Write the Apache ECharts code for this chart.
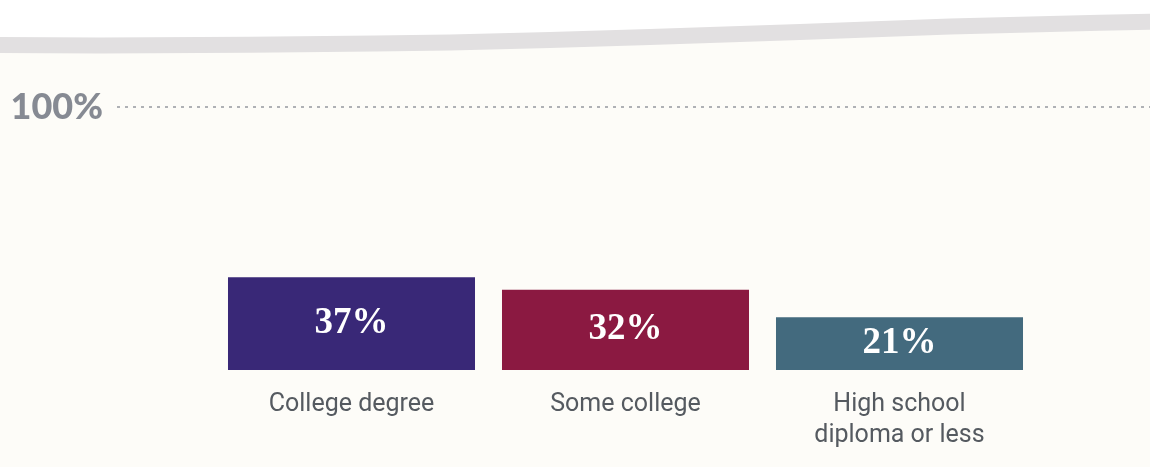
<!DOCTYPE html>
<html>
<head>
<meta charset="utf-8">
<script src="https://cdn.jsdelivr.net/npm/echarts@6/dist/echarts.min.js"></script>
<style>
html,body{margin:0;padding:0;background:#fdfcf8;}
#chart{width:1150px;height:467px;}
</style>
</head>
<body>
<div id="chart"></div>
<script>
// ---- data ----
const categories = ['College degree', 'Some college', 'High school\ndiploma or less'];
const values = [37, 32, 21];
const refTicks = [0, 100];
const barColors = ['#392877', '#8b1941', '#436a7e'];

// decorative swoosh centre line
const swoosh = [[-20,45],[0,45],[100,45.5],[200,45],[300,44.3],[450,42.5],[550,40],[650,37],[800,32],[950,26.5],[1050,24],[1150,21.7],[1170,21]];

const chart = echarts.init(document.getElementById('chart'), null, {renderer: 'canvas'});

const option = {
  backgroundColor: '#fdfcf8',
  animation: false,
  graphic: [
    {
      type: 'polygon',
      z: 0,
      silent: true,
      shape: { points: swoosh.concat([[1170,-10],[-20,-10]]) },
      style: { fill: '#ffffff' }
    },
    {
      type: 'polyline',
      z: 1,
      silent: true,
      shape: { points: swoosh, smooth: 0.3 },
      style: { stroke: '#e2e0e1', lineWidth: 16, fill: null }
    }
  ],
  grid: [
    { left: 117, right: 0, top: 107, height: 263 },
    { left: 214.5, right: 113.5, top: 119, height: 251 }
  ],
  xAxis: [
    { gridIndex: 0, type: 'value', min: 0, max: 1, show: false },
    {
      gridIndex: 1, type: 'category', data: categories,
      axisLine: { show: false }, axisTick: { show: false },
      axisLabel: {
        margin: 19, color: '#555a60', fontFamily: 'Roboto', fontSize: 25,
        lineHeight: 31, interval: 0
      }
    }
  ],
  yAxis: [
    {
      gridIndex: 0, type: 'value', min: refTicks[0], max: refTicks[1], interval: 100,
      axisLine: { show: false }, axisTick: { show: false },
      axisLabel: {
        margin: 14, color: '#868a93', fontFamily: 'Lato', fontWeight: 900, fontSize: 36,
        formatter: v => v === refTicks[1] ? v + '%' : ''
      },
      splitLine: { show: true, lineStyle: { color: ['rgba(0,0,0,0)', '#95989f'], type: [3, 5], width: 1.5 } }
    },
    {
      gridIndex: 1, type: 'value', min: 0, max: 100, show: false
    }
  ],
  series: [
    {
      type: 'bar',
      xAxisIndex: 1, yAxisIndex: 1,
      data: values.map((v, i) => ({ value: v, itemStyle: { color: barColors[i] } })),
      barCategoryGap: '9.85%',
      label: {
        show: true, position: 'inside', color: '#ffffff',
        fontFamily: 'Liberation Serif', fontWeight: 'bold', fontSize: 37,
        formatter: p => p.value + '%'
      }
    }
  ]
};
chart.setOption(option);
</script>
</body>
</html>
